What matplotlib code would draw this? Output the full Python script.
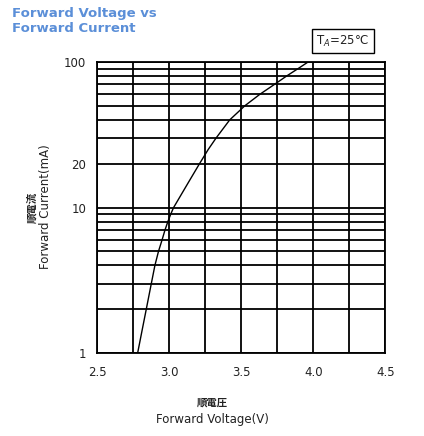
import matplotlib
matplotlib.use("Agg")
import matplotlib.pyplot as plt
import numpy as np
from matplotlib.ticker import FixedLocator, NullFormatter

current_mA = [1, 1.5, 2, 3, 4, 5, 6, 7, 8, 9, 10, 15, 20, 25, 30, 40, 50, 60, 70, 80, 90, 100]
voltage_V = [2.78, 2.815, 2.84, 2.875, 2.90, 2.925, 2.95, 2.97, 2.99, 3.01, 3.03,
             3.135, 3.21, 3.27, 3.325, 3.42, 3.525, 3.63, 3.73, 3.815, 3.895, 3.965]
x_ticks = [2.5, 3.0, 3.5, 4.0, 4.5]
x_tick_labels = ["2.5", "3.0", "3.5", "4.0", "4.5"]
y_ticks = [1, 10, 20, 100]
y_tick_labels = ["1", "10", "20", "100"]
x_grid = [2.5, 2.75, 3.0, 3.25, 3.5, 3.75, 4.0, 4.25, 4.5]
y_grid = [1, 2, 3, 4, 5, 6, 7, 8, 9, 10, 20, 30, 40, 50, 60, 70, 80, 90, 100]

plt.rcParams['font.family'] = ['DejaVu Sans', 'Noto Sans CJK JP']

fig = plt.figure(figsize=(4.24, 4.36), dpi=100)
ax = fig.add_axes([0.2295, 0.190, 0.679, 0.668])
ax.set_yscale('log')
ax.set_xlim(2.5, 4.5)
ax.set_ylim(1, 100)

for xv in x_grid:
    ax.axvline(xv, color='black', lw=1.3, zorder=1)
for yv in y_grid:
    ax.axhline(yv, color='black', lw=1.3, zorder=1)

ax.plot(voltage_V, current_mA, color='black', lw=1.0, zorder=3)

ax.xaxis.set_major_locator(FixedLocator(x_ticks))
ax.set_xticklabels(x_tick_labels)
ax.yaxis.set_major_locator(FixedLocator(y_ticks))
ax.yaxis.set_minor_locator(FixedLocator([]))
ax.yaxis.set_minor_formatter(NullFormatter())
ax.set_yticklabels(y_tick_labels)
ax.tick_params(axis='both', length=0, labelsize=8.5, colors='#222222')
ax.tick_params(axis='x', pad=9)
ax.tick_params(axis='y', pad=8)
for s in ax.spines.values():
    s.set_color('black')
    s.set_linewidth(1.3)

# axis labels
fig.text(0.5, 1 - 403/436, "順電圧", ha='center', va='center', fontsize=7.5,
         family=['Noto Sans CJK JP'], weight='bold', color='#222222')
fig.text(0.5, 1 - 419/436, "Forward Voltage(V)", ha='center', va='center',
         fontsize=8.5, color='#222222')
fig.text(32/424, 1 - 207/436, "順電流", ha='center', va='center', fontsize=7.5,
         rotation=90, family=['Noto Sans CJK JP'], weight='bold', color='#222222')
fig.text(46/424, 1 - 207/436, "Forward Current(mA)", ha='center', va='center',
         fontsize=8.5, rotation=90, color='#222222')

# title
fig.text(12/424, 1 - 14/436, "Forward Voltage vs", ha='left', va='center',
         fontsize=9.5, weight='bold', color='#5b8fd8')
fig.text(12/424, 1 - 29/436, "Forward Current", ha='left', va='center',
         fontsize=9.5, weight='bold', color='#5b8fd8')

# temperature box
fig.text(343/424, 1 - 41/436, r"T$_A$=25°C", ha='center', va='center',
         fontsize=8.5, color='#222222',
         bbox=dict(boxstyle='square,pad=0.35', facecolor='white', edgecolor='black', lw=1.0))

fig.savefig("out.png", dpi=100)
